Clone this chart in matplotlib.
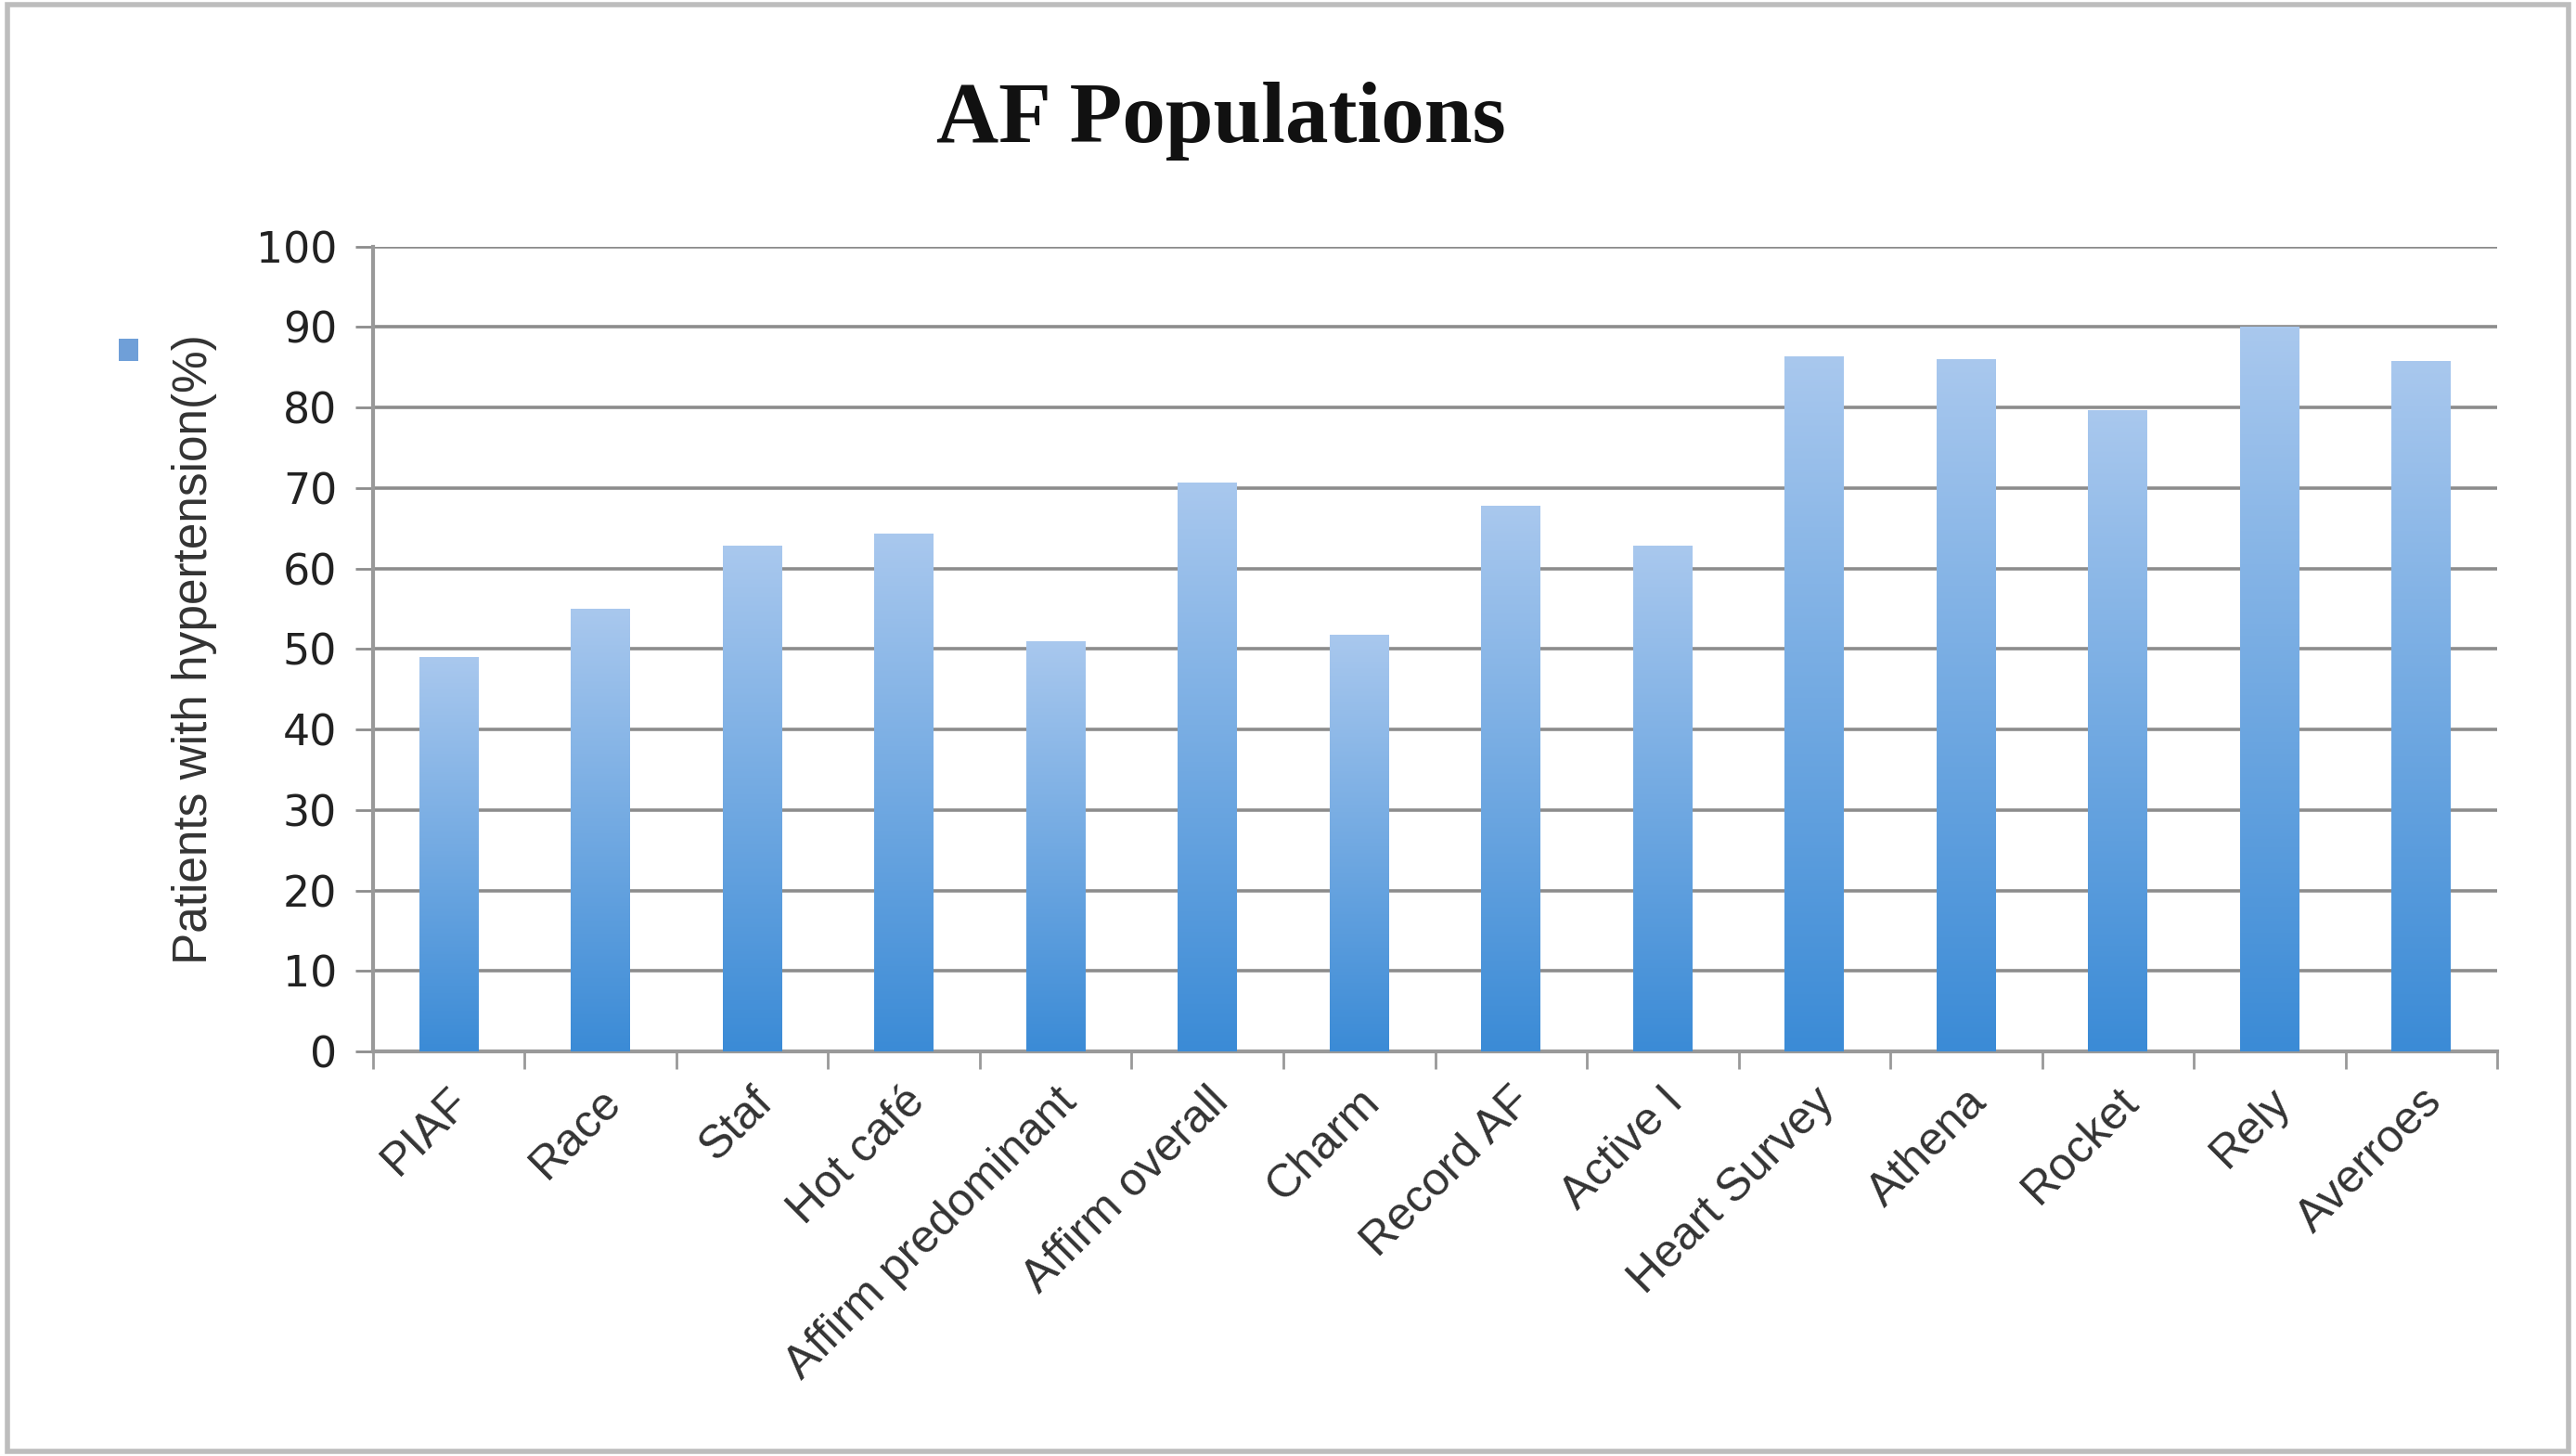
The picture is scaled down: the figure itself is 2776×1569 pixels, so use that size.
import numpy as np
import matplotlib.pyplot as plt
import matplotlib.transforms as mtransforms
from matplotlib.patches import Patch, Rectangle
from matplotlib.colors import LinearSegmentedColormap

# data
studies = ["PIAF", "Race", "Staf", "Hot café", "Affirm predominant",
           "Affirm overall", "Charm", "Record AF", "Active I",
           "Heart Survey", "Athena", "Rocket", "Rely", "Averroes"]
hypertension = [49, 55, 62.8, 64.3, 51, 70.7, 51.8, 67.8, 62.8,
                86.4, 86, 79.7, 90, 85.8]
yticks = list(range(0, 101, 10))

fig = plt.figure(figsize=(27.76, 15.69), dpi=100)
ax = fig.add_axes([0.1448, 0.2779, 0.8246, 0.5528])

x = np.arange(len(studies))
bars = ax.bar(x, hypertension, width=0.39, color="none", zorder=3)

# vertical gradient fill, clipped to each bar
cmap = LinearSegmentedColormap.from_list("grad", ["#3b8bd6", "#a9c8ee"])
grad = np.linspace(0, 1, 256).reshape(-1, 1)
for b in bars:
    x0, y0 = b.get_x(), b.get_y()
    w, h = b.get_width(), b.get_height()
    im = ax.imshow(grad, cmap=cmap, origin="lower", aspect="auto",
                   extent=[x0, x0 + w, 0, h], zorder=3)
    im.set_clip_path(b)

ax.set_xlim(-0.5, len(studies) - 0.5)
ax.set_ylim(0, 100)
ax.set_yticks(yticks)
ax.set_yticklabels([str(t) for t in yticks], fontsize=33, color="#222222",
                   fontfamily="DejaVu Sans")
ax.yaxis.grid(True, color="#8c8c8c", linewidth=2.6, zorder=0)
ax.set_axisbelow(True)

ax.set_xticks(x)
ax.set_xticklabels(studies, rotation=45, ha="right", va="center",
                   rotation_mode="anchor", fontsize=36, color="#333333",
                   fontfamily="Liberation Sans")
ax.tick_params(axis="x", which="major", length=0, pad=34)
# nudge the slanted labels a little to the right, like the original
shift = mtransforms.ScaledTranslation(0.15, 0, fig.dpi_scale_trans)
for lbl in ax.get_xticklabels():
    lbl.set_transform(lbl.get_transform() + shift)
ax.set_xticks(np.arange(-0.5, len(studies), 1), minor=True)
ax.tick_params(axis="x", which="minor", length=14, width=2, color="#999999")
ax.tick_params(axis="y", length=14, width=2, color="#8c8c8c", pad=14)

for side in ["top", "right"]:
    ax.spines[side].set_visible(False)
for side in ["left", "bottom"]:
    ax.spines[side].set_color("#999999")
    ax.spines[side].set_linewidth(3)

ax.set_ylabel("Patients with hypertension(%)", fontsize=37,
              fontfamily="Liberation Sans", color="#333333", labelpad=30)

fig.text(0.474, 0.917, "AF Populations", ha="center", va="center",
         fontsize=67, fontweight="bold", fontfamily="Liberation Serif",
         color="#111111")

# legend: only the coloured marker shows
fig.legend(handles=[Patch(facecolor="#6f9fd8")], labels=[""],
           loc="center", bbox_to_anchor=(0.056, 0.758), frameon=False,
           handlelength=0.5, handleheight=0.5, fontsize=30)

# thin outer border around the whole chart
fig.patches.append(Rectangle((0.003, 0.003), 0.994, 0.994,
                             transform=fig.transFigure, fill=False,
                             edgecolor="#bdbdbd", linewidth=4))

fig.savefig("out.png", dpi=100)
